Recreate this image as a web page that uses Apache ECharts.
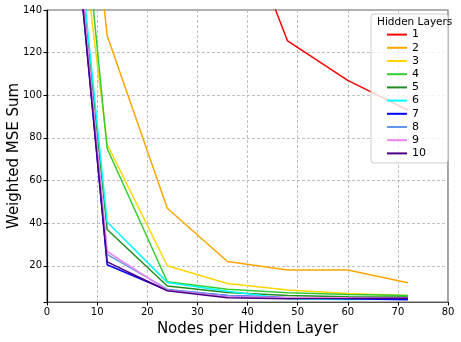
<!DOCTYPE html>
<html>
<head>
<meta charset="utf-8">
<script src="https://cdn.jsdelivr.net/npm/echarts@6/dist/echarts.min.js"></script>
<style>
  html, body { margin: 0; padding: 0; background: #fff; }
  #main { width: 461px; height: 342px; }
</style>
</head>
<body>
<div id="main"></div>
<script>
// nodes per hidden layer
var nodes = [6, 12, 24, 36, 48, 60, 72];
// weighted MSE sum, one array per number of hidden layers
var layers1 = [900, 600, 380, 198, 125.5, 107, 93];
var layers2 = [261, 128, 47, 22, 18, 18, 12];
var layers3 = [192, 77, 20, 11.7, 8.6, 7, 6];
var layers4 = [218, 75, 12.5, 9, 7.3, 6.5, 6];
var layers5 = [175, 37, 10.5, 7.5, 6, 5.5, 5.3];
var layers6 = [180, 40.5, 12.2, 8, 4.5, 4.2, 4.5];
var layers7 = [170, 20.5, 8.5, 6, 5, 4.5, 4];
var layers8 = [172, 25.3, 9, 6, 5, 5, 4.8];
var layers9 = [175, 26.8, 8.5, 5.5, 5, 5, 4.8];
var layers10 = [170, 21.8, 8.3, 5, 4.5, 4.6, 4.8];
var layerNames = ['1', '2', '3', '4', '5', '6', '7', '8', '9', '10'];
var allLayers = [layers1, layers2, layers3, layers4, layers5, layers6, layers7, layers8, layers9, layers10];
var colors = ['#ff0000', '#ffa500', '#ffd700', '#32cd32', '#228b22', '#00ffff', '#0000ff', '#6495ed', '#ee82ee', '#4b0082'];

var font = 'DejaVu Sans';

var series = allLayers.map(function (vals, i) {
  return {
    name: layerNames[i],
    type: 'line',
    data: nodes.map(function (x, j) { return [x, vals[j]]; }),
    showSymbol: false,
    symbol: 'none',
    lineStyle: { color: colors[i], width: 1.5 },
    itemStyle: { color: colors[i] },
    emphasis: { disabled: true },
    clip: true,
    z: 2
  };
});

var myChart = echarts.init(document.getElementById('main'));
myChart.setOption({
  animation: false,
  color: colors,
  grid: {
    left: 47, right: 13, top: 10, bottom: 40,
    outerBoundsMode: 'none',
    containLabel: false,
    show: true, borderColor: '#666', borderWidth: 1.2
  },
  legend: {
    data: layerNames,
    orient: 'vertical',
    right: 13,
    top: 14,
    padding: [14, 22, 3, 16],
    backgroundColor: 'rgba(255,255,255,0.8)',
    borderColor: '#cccccc',
    borderWidth: 1,
    borderRadius: 3,
    icon: 'rect',
    itemWidth: 20,
    itemHeight: 2,
    itemGap: 0,
    textStyle: { fontFamily: font, fontSize: 11, color: '#000', lineHeight: 13.2 },
    selectedMode: false
  },
  graphic: [{
    type: 'text',
    left: 377,
    top: 17,
    z: 100,
    style: { text: 'Hidden Layers', fontFamily: font, fontSize: 10.5, fill: '#000' }
  }],
  xAxis: {
    type: 'value',
    min: 0,
    max: 80,
    interval: 10,
    name: 'Nodes per Hidden Layer',
    nameLocation: 'middle',
    nameGap: 18,
    nameTextStyle: { fontFamily: font, fontSize: 15, color: '#000' },
    axisLine: { show: true, onZero: false, lineStyle: { color: '#555', width: 1.2 } },
    axisTick: { show: true, length: 3.5, lineStyle: { color: '#000' } },
    axisLabel: { fontFamily: font, fontSize: 10, color: '#000', margin: 5 },
    splitLine: { show: true, lineStyle: { color: '#b0b0b0', type: [3, 2], width: 0.8 } }
  },
  yAxis: {
    type: 'value',
    min: 3,
    max: 140,
    splitNumber: 7,
    name: 'Weighted MSE Sum',
    nameLocation: 'middle',
    nameGap: 25,
    nameMoveOverlap: false,
    nameTextStyle: { fontFamily: font, fontSize: 15, color: '#000' },
    axisLine: { show: true, onZero: false, lineStyle: { color: '#000', width: 1.2 } },
    axisTick: { show: true, length: 3.5, lineStyle: { color: '#000' } },
    axisLabel: {
      fontFamily: font, fontSize: 10, color: '#000', margin: 5,
      formatter: function (v) { return v % 20 === 0 ? String(v) : ''; }
    },
    splitLine: { show: true, lineStyle: { color: '#b0b0b0', type: [3, 2], width: 0.8 } }
  },
  series: series
});
</script>
</body>
</html>
